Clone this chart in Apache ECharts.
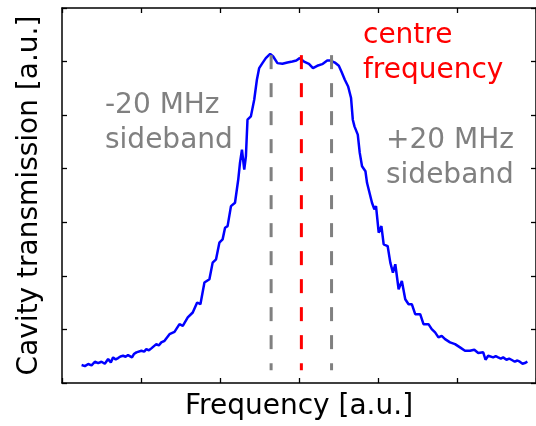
<!DOCTYPE html>
<html>
<head>
<meta charset="utf-8">
<script src="https://cdn.jsdelivr.net/npm/echarts@6/dist/echarts.min.js"></script>
<style>
  html, body { margin: 0; padding: 0; background: #fff; }
  #chart { width: 536px; height: 426px; }
</style>
</head>
<body>
<div id="chart"></div>
<script>
// frequency axis runs 0..6 a.u., transmission 0..7 a.u.
const freq = [
  0.248, 0.290, 0.332, 0.374, 0.416, 0.458, 0.500, 0.542, 0.584, 0.618,
  0.647, 0.680, 0.710, 0.740, 0.773, 0.805, 0.836, 0.886, 0.910, 0.942,
  1.005, 1.040, 1.068, 1.100, 1.131, 1.194, 1.225, 1.257, 1.298, 1.361,
  1.424, 1.487, 1.529, 1.592, 1.655, 1.711, 1.752, 1.803, 1.866, 1.907,
  1.950, 1.992, 2.033, 2.064, 2.096, 2.139, 2.190, 2.231, 2.253, 2.278,
  2.307, 2.328, 2.348, 2.391, 2.433, 2.467, 2.496, 2.537, 2.580, 2.635,
  2.673, 2.727, 2.790, 2.853, 2.916, 2.966, 3.009, 3.063, 3.126, 3.177,
  3.231, 3.294, 3.357, 3.400, 3.454, 3.504, 3.538, 3.580, 3.622, 3.659,
  3.681, 3.702, 3.744, 3.769, 3.798, 3.841, 3.861, 3.882, 3.924, 3.954,
  3.975, 4.009, 4.043, 4.072, 4.122, 4.156, 4.189, 4.219, 4.261, 4.302,
  4.345, 4.387, 4.428, 4.471, 4.534, 4.576, 4.639, 4.680, 4.723, 4.765,
  4.806, 4.849, 4.912, 4.975, 5.038, 5.101, 5.164, 5.219, 5.269, 5.332,
  5.361, 5.395, 5.458, 5.490, 5.521, 5.555, 5.584, 5.626, 5.660, 5.689,
  5.732, 5.765, 5.795, 5.830, 5.858, 5.891
];
const transmission = [
  0.335, 0.315, 0.354, 0.330, 0.397, 0.370, 0.397, 0.359, 0.447, 0.385,
  0.478, 0.440, 0.465, 0.495, 0.508, 0.490, 0.521, 0.478, 0.540, 0.572,
  0.601, 0.585, 0.633, 0.610, 0.646, 0.726, 0.700, 0.758, 0.788, 0.912,
  0.955, 1.098, 1.067, 1.223, 1.316, 1.503, 1.471, 1.875, 1.936, 2.247,
  2.309, 2.620, 2.681, 2.899, 2.929, 3.301, 3.364, 3.798, 4.109, 4.357,
  3.984, 4.232, 4.915, 4.977, 5.288, 5.660, 5.878, 5.971, 6.064, 6.144,
  6.094, 5.971, 5.958, 5.982, 6.001, 6.019, 6.064, 6.001, 5.958, 5.878,
  5.921, 5.952, 6.019, 6.019, 5.982, 5.921, 5.809, 5.660, 5.535, 5.319,
  4.915, 4.791, 4.636, 4.295, 4.046, 3.953, 3.737, 3.705, 3.364, 3.240,
  3.301, 2.806, 2.929, 2.588, 2.556, 2.247, 2.061, 2.216, 1.750, 1.905,
  1.564, 1.471, 1.471, 1.285, 1.285, 1.098, 1.098, 1.005, 0.944, 0.851,
  0.881, 0.819, 0.758, 0.726, 0.665, 0.601, 0.601, 0.620, 0.559, 0.572,
  0.434, 0.508, 0.478, 0.500, 0.478, 0.455, 0.478, 0.434, 0.455, 0.434,
  0.397, 0.420, 0.397, 0.360, 0.372, 0.397
];

// dashed guide lines: -20 MHz sideband, centre, +20 MHz sideband
const markerFreq = [2.647, 3.030, 3.412];
const markerColor = ['#808080', '#ff0000', '#808080'];
const markerSpan = [6.12, 0.24];

const FONT = 'DejaVu Sans';

const chart = echarts.init(document.getElementById('chart'), null, {renderer: 'canvas'});

function frameAxis(pos, max) {
    return {
        type: 'value',
        position: pos,
        min: 0,
        max: max,
        interval: 1,
        axisLine: {show: true, onZero: false, lineStyle: {color: '#000', width: 1.5}},
        axisTick: {show: true, inside: true, length: 5, lineStyle: {color: '#000', width: 1.3}},
        axisLabel: {show: false},
        splitLine: {show: false}
    };
}

const xBottom = Object.assign(frameAxis('bottom', 6), {
    name: 'Frequency [a.u.]',
    nameLocation: 'middle',
    nameGap: 10,
    nameTextStyle: {fontFamily: FONT, fontSize: 28, color: '#000', verticalAlign: 'top'}
});
const yLeft = Object.assign(frameAxis('left', 7), {
    name: 'Cavity transmission [a.u.]',
    nameLocation: 'middle',
    nameGap: 18,
    nameTextStyle: {fontFamily: FONT, fontSize: 28, color: '#000'}
});

const series = [{
    type: 'line',
    data: freq.map((f, i) => [f, transmission[i]]),
    showSymbol: false,
    lineStyle: {color: '#0000ff', width: 2.5},
    z: 2
}];

markerFreq.forEach((f, i) => {
    series.push({
        type: 'line',
        data: [[f, markerSpan[0]], [f, markerSpan[1]]],
        showSymbol: false,
        lineStyle: {color: markerColor[i], width: 3, type: [14, 14], cap: 'butt'},
        z: 3
    });
});

function label(text, x, y, color) {
    return {
        type: 'text',
        left: x,
        top: y,
        style: {
            text: text,
            fill: color,
            font: '28px "' + FONT + '"',
            lineHeight: 35
        }
    };
}

chart.setOption({
    animation: false,
    backgroundColor: '#fff',
    grid: {left: 62, top: 8, width: 476, height: 376},
    xAxis: [xBottom, frameAxis('top', 6)],
    yAxis: [yLeft, frameAxis('right', 7)],
    series: series,
    graphic: [
        label('-20 MHz\nsideband', 105, 88, '#808080'),
        label('+20 MHz\nsideband', 386, 123, '#808080'),
        label('centre\nfrequency', 363, 18, '#ff0000')
    ]
});
</script>
</body>
</html>
